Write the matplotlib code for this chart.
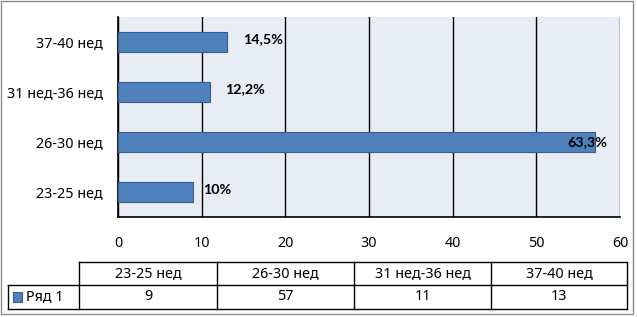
import matplotlib.pyplot as plt
from matplotlib.patches import Rectangle

plt.rcParams['font.family'] = ['Noto Sans', 'DejaVu Sans']

# data
categories = ['23-25 нед', '26-30 нед', '31 нед-36 нед', '37-40 нед']
values = [9, 57, 11, 13]
percent_labels = ['10%', '63,3%', '12,2%', '14,5%']
series_name = 'Ряд 1'

W, H = 637, 317
fs = 10.3
fig = plt.figure(figsize=(W / 100, H / 100), dpi=100)

# outer chart border
fig.patches.append(Rectangle((1 / W, 3 / H), 632 / W, 313 / H, transform=fig.transFigure,
                             fill=False, edgecolor='#8c8c8c', linewidth=1))

# plot area in pixel coords: x 118..620, y 17..217
ax = fig.add_axes([118 / W, 1 - 217 / H, (620 - 118) / W, (217 - 17) / H])
ax.set_facecolor('#e8ecf4')
y = range(len(categories))
ax.barh(y, values, height=0.4, color='#4f81bd', edgecolor='#385d8a', linewidth=0.8, zorder=3)
ax.set_xlim(0, 60)
ax.set_ylim(-0.5, 3.5)
ax.set_xticks(range(0, 61, 10))
ax.set_yticks(list(y))
ax.set_yticklabels(categories, fontsize=fs)
ax.tick_params(axis='x', labelsize=fs, length=0, pad=14)
ax.tick_params(axis='y', length=0, pad=11)
ax.xaxis.grid(True, color='black', linewidth=1, zorder=1)
for s in ['top', 'right']:
    ax.spines[s].set_visible(False)
ax.spines['left'].set_linewidth(1.2)
ax.spines['bottom'].set_linewidth(1.2)

# percent labels (pixel offsets from bar end)
label_dx = [10, -28, 15, 16]
label_dy = [2, 0, 3, 3]
for i, (v, t) in enumerate(zip(values, percent_labels)):
    ax.annotate(t, (v, i), xytext=(label_dx[i], label_dy[i]), textcoords='offset pixels',
                ha='left', va='center', fontsize=fs, fontweight='bold',
                family=['Lato', 'DejaVu Sans'], zorder=5)

# data table below
tab = fig.add_axes([0, 0, 1, 1])
tab.set_xlim(0, W)
tab.set_ylim(H, 0)
tab.axis('off')
col_edges = [79, 217, 354, 491, 627]
row_top, row_mid, row_bot = 262, 285, 309
lw = 1
tab.plot([col_edges[0], col_edges[-1]], [row_top, row_top], color='black', lw=lw)
tab.plot([8, col_edges[-1]], [row_mid, row_mid], color='black', lw=lw)
tab.plot([8, col_edges[-1]], [row_bot, row_bot], color='black', lw=lw)
tab.plot([8, 8], [row_mid, row_bot], color='black', lw=lw)
for xe in col_edges:
    tab.plot([xe, xe], [row_top, row_bot], color='black', lw=lw)
for i, (c, v) in enumerate(zip(categories, values)):
    xc = (col_edges[i] + col_edges[i + 1]) / 2
    tab.text(xc, (row_top + row_mid) / 2, c, ha='center', va='center', fontsize=fs)
    tab.text(xc, (row_mid + row_bot) / 2, str(v), ha='center', va='center', fontsize=fs)
tab.add_patch(Rectangle((13, 292), 9, 10, facecolor='#4f81bd', edgecolor='#385d8a', lw=0.8))
tab.text(26, (row_mid + row_bot) / 2, series_name, ha='left', va='center', fontsize=fs)

fig.savefig('out.png', dpi=100)
